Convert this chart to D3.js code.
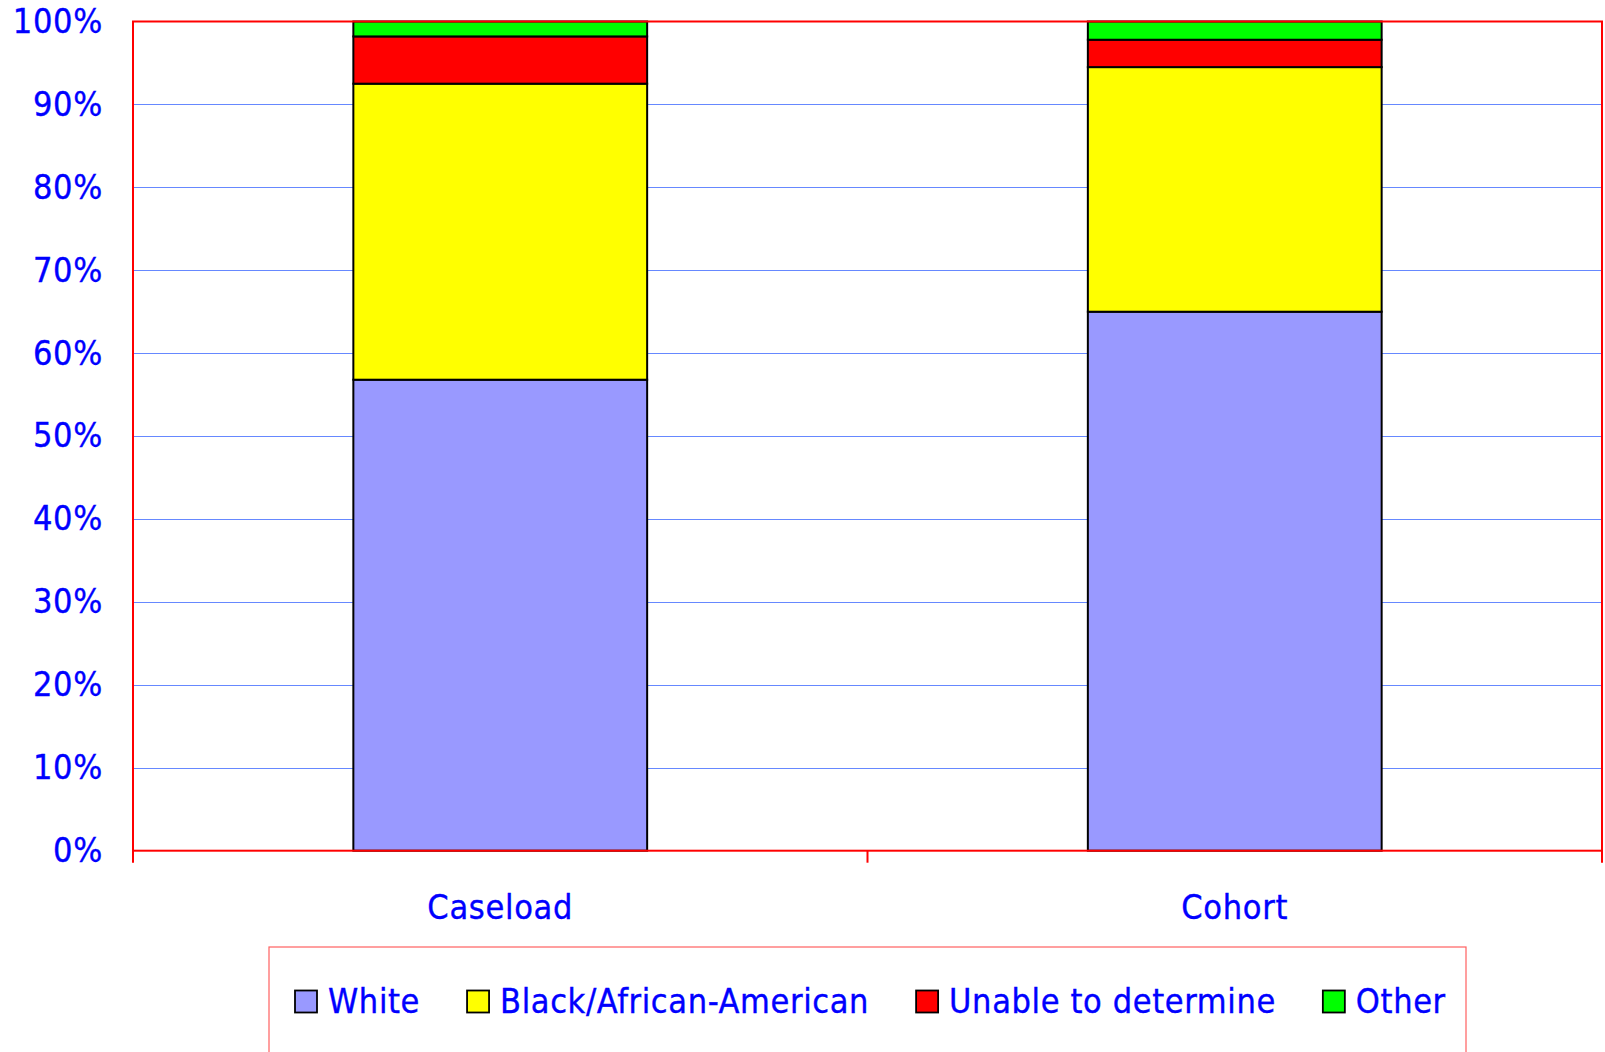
<!DOCTYPE html>
<html><head><meta charset="utf-8">
<script src="https://cdn.jsdelivr.net/npm/d3@7"></script>
<style>
html,body{margin:0;padding:0;background:#fff;}
text{font-family:"DejaVu Sans Condensed","DejaVu Sans",sans-serif;font-stretch:condensed;letter-spacing:0.7px;stroke:#0000FF;stroke-width:0.35px;}
text.leg{letter-spacing:0.62px;}
</style></head>
<body>
<svg id="chart" width="1605" height="1052"></svg>
<script>
const categories = ["Caseload", "Cohort"];
const seriesNames = ["White", "Black/African-American", "Unable to determine", "Other"];
const whiteVals = [56.8, 65.0];
const blackVals = [35.7, 29.5];
const unableVals = [5.7, 3.3];
const otherVals = [1.8, 2.2];
const yTicks = [0, 10, 20, 30, 40, 50, 60, 70, 80, 90, 100];
const colors = ["#9999FF", "#FFFF00", "#FF0000", "#00FF00"];

const series = [whiteVals, blackVals, unableVals, otherVals];
const table = categories.map((c, i) => {
  const o = {cat: c};
  seriesNames.forEach((s, j) => o[s] = series[j][i]);
  return o;
});
const stacked = d3.stack().keys(seriesNames)(table);

const svg = d3.select("#chart");
const L = 133, R = 1602, T = 21.5, B = 850.7;
const x = d3.scaleBand().domain(categories).range([L, R]).paddingInner(0.6).paddingOuter(0.3);
const y = d3.scaleLinear().domain([0, 100]).range([B, T]);

// gridlines
svg.append("g").selectAll("line").data(yTicks.filter(t => t > 0 && t < 100)).join("line")
  .attr("x1", L).attr("x2", R)
  .attr("y1", d => Math.round(y(d)) + 0.5).attr("y2", d => Math.round(y(d)) + 0.5)
  .attr("stroke", "#6688FF").attr("stroke-width", 1);

// bars
svg.append("g").selectAll("g").data(stacked).join("g")
  .attr("fill", (d, i) => colors[i])
  .selectAll("rect").data(d => d).join("rect")
  .attr("x", d => x(d.data.cat))
  .attr("width", x.bandwidth())
  .attr("y", d => y(d[1]))
  .attr("height", d => y(d[0]) - y(d[1]))
  .attr("stroke", "#000").attr("stroke-width", 2);

// frame
svg.append("rect").attr("x", L).attr("y", T).attr("width", R - L).attr("height", B - T)
  .attr("fill", "none").attr("stroke", "#FF0000").attr("stroke-width", 2);

// y axis labels
const yAxis = d3.axisLeft(y).tickValues(yTicks).tickFormat(d => d + "%").tickSize(0).tickPadding(0);
const yg = svg.append("g").attr("transform", `translate(${L - 30},0)`).call(yAxis);
yg.select(".domain").remove();
yg.selectAll("text").attr("fill", "#0000FF").attr("font-size", 34)
  .style("font-family", '"DejaVu Sans Condensed","DejaVu Sans",sans-serif');

// x axis
const xTickPos = [L, (L + R) / 2, R];
svg.append("g").selectAll("line").data(xTickPos).join("line")
  .attr("x1", d => d).attr("x2", d => d).attr("y1", B).attr("y2", B + 12)
  .attr("stroke", "#FF0000").attr("stroke-width", 2);
svg.append("g").selectAll("text").data(categories).join("text")
  .attr("x", d => x(d) + x.bandwidth() / 2).attr("y", 918.5)
  .attr("text-anchor", "middle").attr("fill", "#0000FF").attr("font-size", 34)
  .text(d => d);

// legend
svg.append("rect").attr("x", 269).attr("y", 947).attr("width", 1466 - 269).attr("height", 130)
  .attr("fill", "none").attr("stroke", "#FF6060").attr("stroke-width", 1.2);
let lx = 295;
seriesNames.forEach((s, i) => {
  svg.append("rect").attr("x", lx).attr("y", 990.5).attr("width", 22).attr("height", 22)
    .attr("fill", colors[i]).attr("stroke", "#000").attr("stroke-width", 1.8);
  const t = svg.append("text").attr("class", "leg").attr("x", lx + 33).attr("y", 1013.3)
    .attr("fill", "#0000FF").attr("font-size", 34).text(s);
  lx = lx + 33 + t.node().getComputedTextLength() + 47;
});
</script>
</body></html>
